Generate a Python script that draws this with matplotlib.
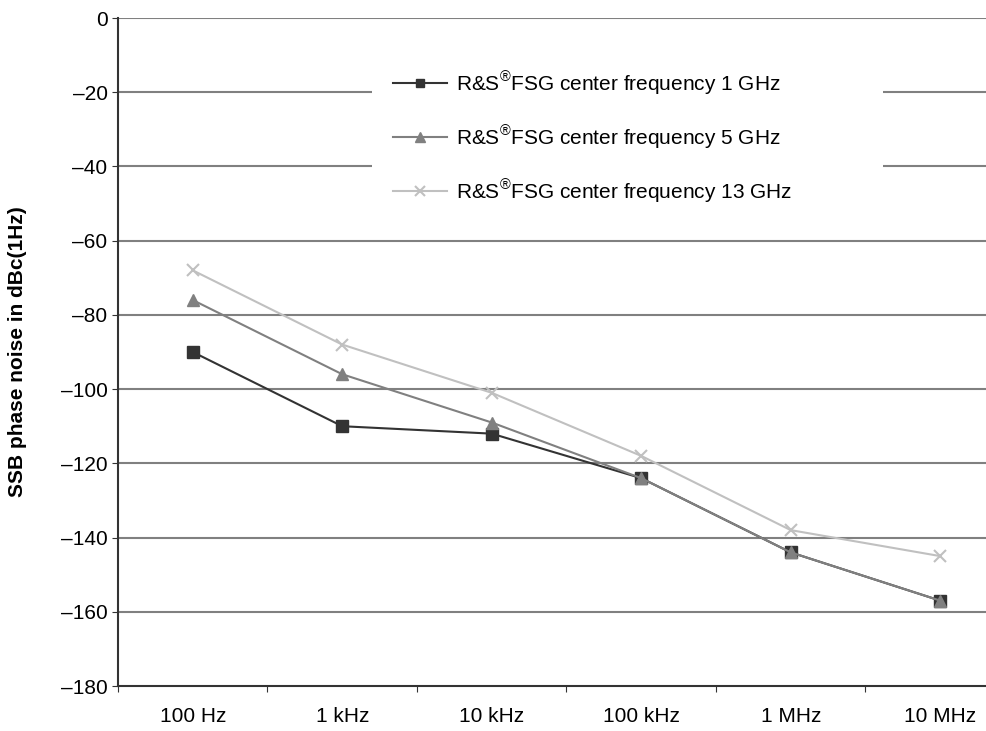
import numpy as np
import matplotlib
matplotlib.use("Agg")
import matplotlib.pyplot as plt
from matplotlib.patches import Rectangle

plt.rcParams['font.family'] = ['Liberation Sans', 'DejaVu Sans']
plt.rcParams['mathtext.fontset'] = 'custom'
plt.rcParams['mathtext.rm'] = 'Liberation Sans'

# offset frequencies (categories)
offsets = ['100 Hz', '1 kHz', '10 kHz', '100 kHz', '1 MHz', '10 MHz']

# SSB phase noise in dBc(1Hz)
noise_1ghz = [-90, -110, -112, -124, -144, -157]
noise_5ghz = [-76, -96, -109, -124, -144, -157]
noise_13ghz = [-68, -88, -101, -118, -138, -145]

labels = [r'R&S$^{\circledR}$FSG center frequency 1 GHz',
          r'R&S$^{\circledR}$FSG center frequency 5 GHz',
          r'R&S$^{\circledR}$FSG center frequency 13 GHz']

W, H = 987, 731
fig = plt.figure(figsize=(W / 100, H / 100), dpi=100)
# plot area runs past the right edge of the picture (cropped original)
ax = fig.add_axes([118 / W, (H - 686) / H, (1015 - 118) / W, (686 - 18) / H])

# later series drawn on top, like the original
x = np.arange(len(offsets))
ax.plot(x, noise_1ghz, color='#333333', lw=1.5, marker='s', ms=8,
        mfc='#333333', mec='#333333', label=labels[0], zorder=3)
ax.plot(x, noise_5ghz, color='#808080', lw=1.5, marker='^', ms=9,
        mfc='#808080', mec='#808080', label=labels[1], zorder=4)
ax.plot(x, noise_13ghz, color='#c0c0c0', lw=1.5, marker='x', ms=9,
        mew=1.5, label=labels[2], zorder=5)

ax.set_xlim(-0.5, len(offsets) - 0.5)
ax.set_ylim(-180, 0)
ax.set_yticks(np.arange(-180, 1, 20))
ax.set_yticklabels([str(v).replace('-', '\u2013') for v in range(-180, 1, 20)])

# ticks between categories, labels centred on categories
ax.set_xticks(np.arange(-0.5, len(offsets), 1))
ax.set_xticklabels([])
ax.set_xticks(x, minor=True)
ax.set_xticklabels(offsets, minor=True)
ax.tick_params(axis='x', which='major', length=4, direction='out', color='#333333')
ax.tick_params(axis='x', which='minor', length=0, pad=15, labelsize=15)
ax.tick_params(axis='y', length=4, direction='out', color='#333333', pad=3.5, labelsize=15)

for v in range(-160, 1, 20):
    ax.axhline(v, color='#808080', lw=1.5, zorder=1)

for s in ['top', 'right']:
    ax.spines[s].set_visible(False)
for s in ['left', 'bottom']:
    ax.spines[s].set_color('#333333')
    ax.spines[s].set_linewidth(1.5)

fig.text(18 / W, 1 - 352 / H, 'SSB phase noise in dBc(1Hz)', rotation=90,
         ha='center', va='center', fontsize=15, fontweight='bold')

# white legend box (wider than its entries, as in the original)
ax.add_patch(Rectangle((372 / W, 1 - 225 / H), (883 - 372) / W, (225 - 45) / H,
                       transform=fig.transFigure, facecolor='white',
                       edgecolor='none', zorder=2, clip_on=False))

leg = ax.legend(loc='upper left', bbox_to_anchor=(393 / W, 1 - 69 / H),
                bbox_transform=fig.transFigure, fontsize=15, frameon=False,
                labelspacing=1.25, handlelength=2.6, handletextpad=0.4,
                borderpad=0, borderaxespad=0, markerscale=0.8)
leg.set_zorder(10)

fig.savefig('out.png', dpi=100)
